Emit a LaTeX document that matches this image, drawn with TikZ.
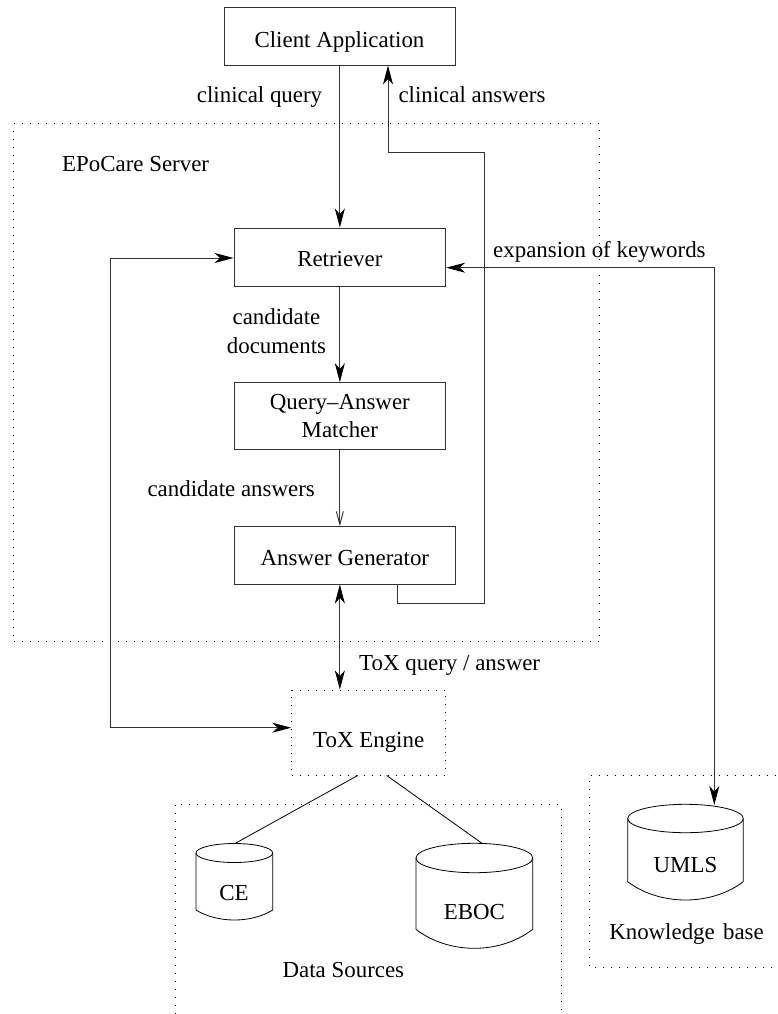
\documentclass[tikz,border=0pt]{standalone}
\usepackage{fontspec}
\setmainfont{Liberation Serif}
\usetikzlibrary{arrows.meta,calc}

% database drum: left, right, ellipse centre y, y radius, side bottom y, dip of the base
\newcommand\dbcyl[6]{%
  \pgfmathsetmacro\dbrx{(#2-#1)/2}%
  \pgfmathsetmacro\dbcx{(#1+#2)/2}%
  \pgfmathsetmacro\dbk{#5+#6*4/3}%
  \pgfmathsetmacro\dbla{#1+(#2-#1)*0.28}%
  \pgfmathsetmacro\dblb{#1+(#2-#1)*0.72}%
  \draw[cyl] (#1,#3) -- (#1,#5) .. controls (\dbla,\dbk) and (\dblb,\dbk) .. (#2,#5) -- (#2,#3);
  \draw[cyl] (\dbcx,#3) ellipse [x radius=\dbrx pt, y radius=#4pt];
}

\begin{document}
\begin{tikzpicture}[x=1pt,y=-1pt,
  font=\fontsize{22.9}{28.3}\selectfont,
  wire/.style={line width=0.95pt, draw=black!80},
  cyl/.style={line width=0.8pt, draw=black},
  box/.style={draw=black!80, line width=0.95pt, inner sep=0pt},
  dotbox/.style={draw=black, line width=1pt, dash pattern=on 1pt off 7pt, inner sep=0pt},
  tip/.tip={Stealth[length=19pt,width=10pt,inset=5.5pt,color=black]},
  arr/.style={wire, -tip},
  arrboth/.style={wire, tip-tip},
  openarr/.style={wire, -{Straight Barb[length=13pt,width=7pt]}},
  lbl/.style={inner sep=0pt}]

\useasboundingbox (0,0) rectangle (778,1014);
\fill[white] (0,0) rectangle (778,1014);
\clip (0,0) rectangle (778,1014);

% containers
\node[dotbox, minimum width=585.8pt, minimum height=517.7pt] (server) at (306.4,382.85) {};
\node[lbl, anchor=base west] (servername) at (62,171) {EPoCare Server};
\draw[dotbox] (175,1030) |- (561,804.3) -- (561,1030);
\draw[dotbox] (800,775.7) -| (589.3,967.3) -- (800,967.3);
\node[lbl, anchor=base] (dsname) at (343.4,977.5) {Data Sources};
\node[lbl, anchor=base] (kbname) at (686.5,939.5) {Knowledge\hspace{2.5pt} base};

% components
\node[box, minimum width=231pt, minimum height=57.3pt, text height=22.7pt, text depth=0pt]
  (client) at (339.5,36.35) {Client Application};
\node[box, minimum width=211.7pt, minimum height=58pt, text height=19.4pt, text depth=0pt]
  (retr) at (339.85,257) {Retriever};
\node[box, minimum width=211.7pt, minimum height=66.3pt, align=center]
  (qam) at (339.85,415.85) {Query--Answer\\Matcher};
\node[box, minimum width=221.7pt, minimum height=57.3pt, text height=19.3pt, text depth=0pt]
  (ag) at (344.85,555.35) {Answer Generator};
\node[dotbox, minimum width=154pt, minimum height=85pt, text height=30.4pt, text depth=0pt]
  (tox) at (368.7,732.5) {ToX Engine};

% databases
\dbcyl{196}{272.7}{853}{9.5}{910}{10}
\dbcyl{416}{532.7}{858}{14.7}{929.3}{19}
\dbcyl{627.7}{743.3}{818.5}{14.2}{881.7}{18.3}
\node[lbl] (ce) at (234,893) {CE};
\node[lbl] (eboc) at (474.3,911.7) {EBOC};
\node[lbl] (umls) at (685.5,865) {UMLS};
\coordinate (ce-top) at (235,843.5);
\coordinate (eboc-top) at (482.3,843.5);
\coordinate (umls-in) at (714.3,805);

% route points
\coordinate (ret1) at (484,603.3);
\coordinate (ret2) at (484,152);
\coordinate (lp1) at (110,258);
\coordinate (lp2) at (110,727.7);
\coordinate (ex1) at (714.3,267.7);

% connectors
\draw[arr] (client.south -| retr.north) -- (retr.north);
\draw[arr] ([xshift=52.85pt]ag.south) |- (ret1) -- (ret2) -| ([xshift=48.5pt]client.south);
\draw[arr] (retr.south) -- (qam.north);
\draw[openarr] (qam.south) -- (qam.south |- ag.north);
\draw[arrboth] (ag.south -| qam.south) -- (tox.north -| qam.south);
\draw[arrboth] (retr.west |- lp1) -- (lp1) -- (lp2) -- (tox.west |- lp2);
\draw[arrboth] (retr.east |- ex1) -- (ex1) -- (umls-in);
\draw[cyl] ([xshift=-11pt]tox.south) -- (ce-top);
\draw[cyl] ([xshift=18pt]tox.south) -- (eboc-top);

% connector labels
\node[lbl, anchor=base west] (lq) at (196.7,103) {clinical query};
\node[lbl, anchor=base west] (la) at (398.3,103) {clinical answers};
\node[lbl, anchor=base west] (lk) at (493,257.7) {expansion of keywords};
\node[lbl, align=center] (lcd) at (276.5,331.3) {candidate\\documents};
\node[lbl, anchor=base east] (lca) at (315,496.7) {candidate answers};
\node[lbl, anchor=base west] (ltq) at (359,670.7) {ToX query / answer};

\end{tikzpicture}
\end{document}
